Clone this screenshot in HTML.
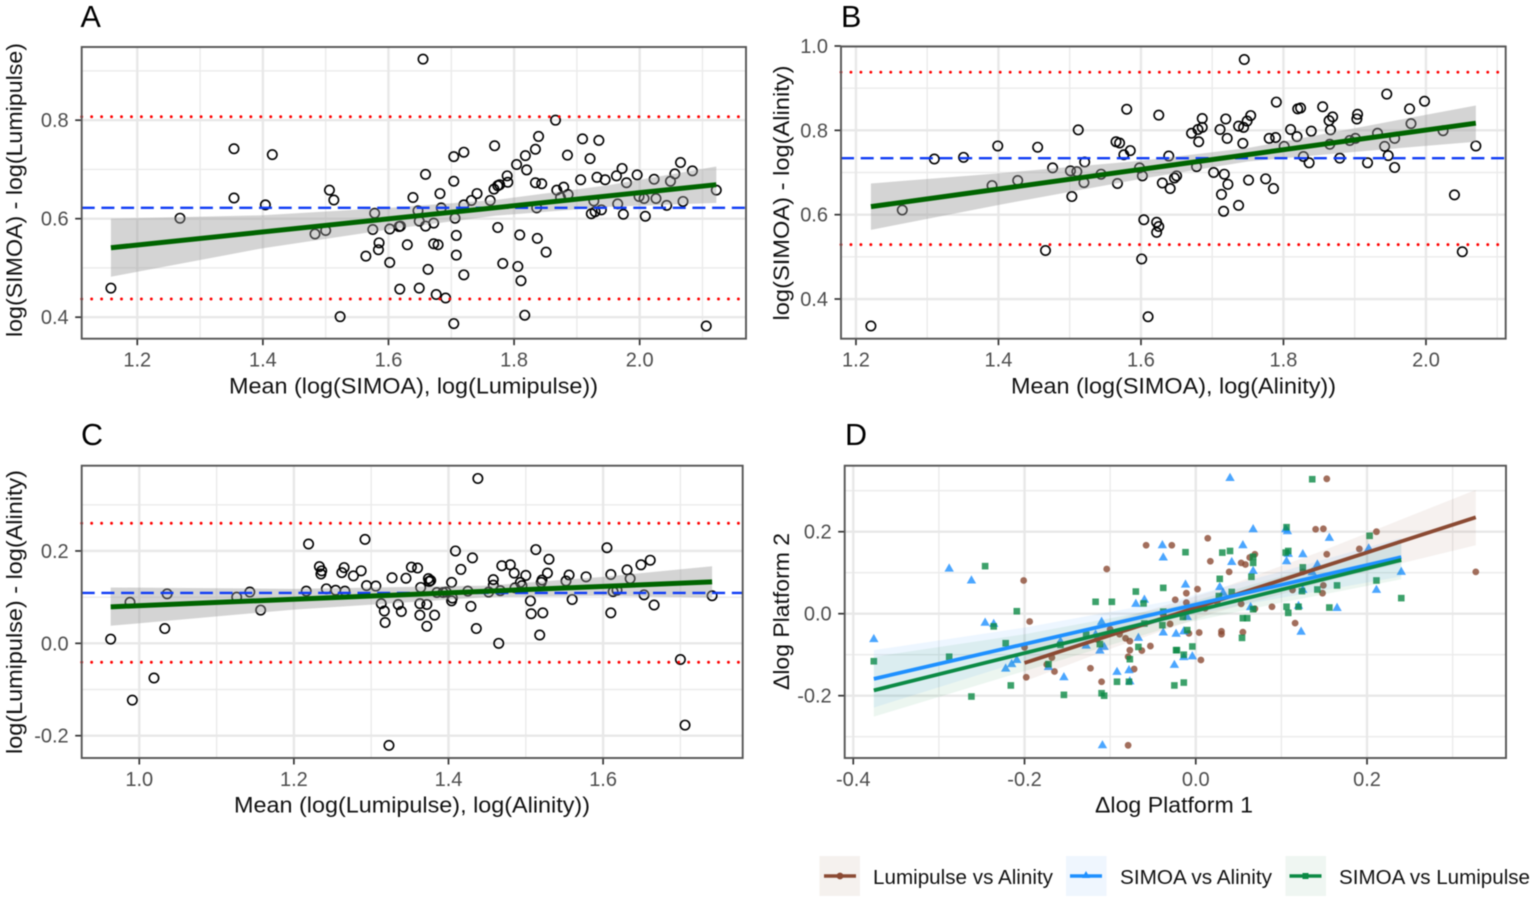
<!DOCTYPE html>
<html lang="en">
<head>
<meta charset="utf-8">
<title>Bland-Altman comparison of SIMOA, Lumipulse and Alinity</title>
<style>
html,body{margin:0;padding:0;background:#fff;}
svg{display:block;font-family:"Liberation Sans",sans-serif;filter:blur(0.4px);}
.t{fill:#111;font-size:22px;}
.l{fill:#111;font-size:20px;}
.p{fill:#000;font-size:30.5px;}
.k{fill:#4d4d4d;font-size:20px;}
</style>
</head>
<body>
<svg id="chart" xmlns="http://www.w3.org/2000/svg" width="1535" height="901" viewBox="0 0 1535 901">
  <g id="marks"></g>

  <text class="p" x="80.5" y="27">A</text>
  <text class="p" x="841" y="27">B</text>
  <text class="p" x="81" y="445">C</text>
  <text class="p" x="845" y="445">D</text>

  <text class="t" x="413.5" y="393.5" text-anchor="middle" textLength="369" lengthAdjust="spacingAndGlyphs">Mean (log(SIMOA), log(Lumipulse))</text>
  <text class="t" x="1173.5" y="393.5" text-anchor="middle" textLength="325" lengthAdjust="spacingAndGlyphs">Mean (log(SIMOA), log(Alinity))</text>
  <text class="t" x="412" y="812.5" text-anchor="middle" textLength="356" lengthAdjust="spacingAndGlyphs">Mean (log(Lumipulse), log(Alinity))</text>
  <text class="t" x="1174" y="812.5" text-anchor="middle" textLength="158" lengthAdjust="spacingAndGlyphs">Δlog Platform 1</text>

  <text class="t" transform="translate(22,190) rotate(-90)" text-anchor="middle" textLength="294" lengthAdjust="spacingAndGlyphs">log(SIMOA) - log(Lumipulse)</text>
  <text class="t" transform="translate(789,193) rotate(-90)" text-anchor="middle" textLength="255" lengthAdjust="spacingAndGlyphs">log(SIMOA) - log(Alinity)</text>
  <text class="t" transform="translate(22,612) rotate(-90)" text-anchor="middle" textLength="284" lengthAdjust="spacingAndGlyphs">log(Lumipulse) - log(Alinity)</text>
  <text class="t" transform="translate(789,611.5) rotate(-90)" text-anchor="middle" textLength="157" lengthAdjust="spacingAndGlyphs">Δlog Platform 2</text>

  <g>
    <g>
      <rect x="819.5" y="856" width="40.5" height="40" fill="#f5f1ee"/>
      <line x1="824" x2="856" y1="876" y2="876" stroke="#8b4a33" stroke-width="3.5"/>
      <circle cx="840" cy="876" r="3.4" fill="#8b4a33"/>
      <text class="l" x="873" y="884" textLength="180" lengthAdjust="spacingAndGlyphs">Lumipulse vs Alinity</text>
    </g>
    <g>
      <rect x="1066" y="856" width="40.5" height="40" fill="#eff6fe"/>
      <line x1="1070" x2="1102" y1="876" y2="876" stroke="#1e90ff" stroke-width="3.5"/>
      <path d="M1086,871 l4,7 h-8 z" fill="#1e90ff"/>
      <text class="l" x="1120" y="884" textLength="152" lengthAdjust="spacingAndGlyphs">SIMOA vs Alinity</text>
    </g>
    <g>
      <rect x="1285.5" y="856" width="40.5" height="40" fill="#eff6f2"/>
      <line x1="1289.5" x2="1321.5" y1="876" y2="876" stroke="#0b8a45" stroke-width="3.5"/>
      <rect x="1302.5" y="873" width="6" height="6" fill="#0b8a45"/>
      <text class="l" x="1339" y="884" textLength="191" lengthAdjust="spacingAndGlyphs">SIMOA vs Lumipulse</text>
    </g>
  </g>
</svg>
<script>
// ---------- Panel A data ----------
const aX = [1.158,1.268,1.354,1.354,1.415,1.404,1.506,1.513,1.483,1.500,1.523,1.578,1.575,1.564,1.585,1.584,1.602,1.602,1.617,1.618,1.655,1.866,1.839,1.769,1.720,1.704,1.909,1.935,1.818,1.834,1.885,1.921,1.804,1.820,1.659,1.704,1.789,1.790,1.777,1.774,1.768,1.741,1.732,1.762,1.682,1.639,1.720,1.684,1.647,1.649,1.659,1.672,1.706,1.619,1.708,1.672,1.679,1.630,1.708,1.663,1.720,1.774,1.809,1.837,1.851,1.782,1.806,1.811,1.817,1.704,1.649,1.676,1.691,2.106,2.122,2.084,2.065,2.056,2.049,2.023,1.996,1.972,1.963,1.979,1.945,1.932,1.906,1.879,1.868,1.874,1.886,1.834,1.844,1.836,1.927,1.923,1.929,1.939,1.965,1.974,1.999,2.007,2.009,2.026,2.043,2.069];
const aY = [0.459,0.601,0.742,0.642,0.730,0.628,0.658,0.638,0.569,0.576,0.401,0.611,0.578,0.524,0.551,0.537,0.579,0.511,0.584,0.457,0.924,0.800,0.767,0.748,0.735,0.726,0.762,0.759,0.728,0.741,0.729,0.722,0.710,0.699,0.690,0.676,0.687,0.674,0.669,0.667,0.660,0.651,0.637,0.637,0.651,0.643,0.628,0.622,0.616,0.595,0.585,0.591,0.601,0.585,0.566,0.549,0.547,0.547,0.526,0.497,0.486,0.582,0.567,0.560,0.532,0.509,0.503,0.474,0.404,0.387,0.459,0.446,0.439,0.382,0.658,0.697,0.714,0.691,0.676,0.680,0.689,0.702,0.687,0.673,0.679,0.684,0.679,0.664,0.658,0.643,0.649,0.673,0.671,0.622,0.636,0.610,0.614,0.618,0.630,0.609,0.645,0.641,0.605,0.641,0.627,0.635];
const aLimits = [0.437,0.622,0.807];
const aFitX = [1.158,2.122];
const aFitY = [0.541,0.669];
const aBandX = [1.158,1.4,1.6,1.77,1.95,2.122];
const aBandLo = [0.482,0.540,0.578,0.606,0.624,0.632];
const aBandHi = [0.600,0.607,0.622,0.638,0.668,0.706];
const aXTicks = [1.2,1.4,1.6,1.8,2.0];
const aXTickLabels = ['1.2','1.4','1.6','1.8','2.0'];
const aXMinor = [1.3,1.5,1.7,1.9,2.1];
const aYTicks = [0.4,0.6,0.8];
const aYTickLabels = ['0.4','0.6','0.8'];
const aYMinor = [0.5,0.7,0.9];

// ---------- Panel B data ----------
const bX = [1.221,1.265,1.310,1.351,1.391,1.399,1.427,1.455,1.476,1.466,1.501,1.510,1.503,1.512,1.521,1.520,1.544,1.567,1.565,1.570,1.580,1.585,1.576,1.598,1.602,1.604,1.601,1.610,1.745,1.622,1.625,1.622,1.625,1.639,1.630,1.641,1.647,1.650,1.671,1.680,1.686,1.686,1.681,1.678,1.702,1.711,1.719,1.721,1.717,1.722,1.713,1.716,1.737,1.737,1.744,1.749,1.754,1.743,1.751,1.775,1.786,1.780,1.789,1.790,1.801,1.810,1.819,1.820,1.824,1.828,1.836,1.839,1.855,1.864,1.869,1.866,1.865,1.879,1.893,1.901,1.904,1.903,1.918,1.932,1.942,1.945,1.947,1.956,1.956,1.977,1.979,1.998,2.024,2.040,2.051,2.070];
const bY = [0.336,0.611,0.732,0.736,0.669,0.763,0.681,0.760,0.711,0.515,0.704,0.702,0.643,0.801,0.725,0.676,0.696,0.674,0.773,0.770,0.850,0.752,0.742,0.711,0.692,0.588,0.495,0.358,0.968,0.582,0.572,0.558,0.836,0.739,0.675,0.662,0.687,0.692,0.793,0.802,0.807,0.828,0.773,0.714,0.700,0.802,0.827,0.781,0.696,0.672,0.648,0.608,0.622,0.810,0.807,0.822,0.835,0.769,0.682,0.685,0.662,0.781,0.783,0.867,0.762,0.802,0.785,0.851,0.853,0.738,0.723,0.798,0.856,0.823,0.832,0.801,0.767,0.734,0.776,0.781,0.838,0.827,0.723,0.793,0.762,0.886,0.740,0.781,0.712,0.851,0.816,0.869,0.799,0.647,0.512,0.763];
const bLimits = [0.529,0.734,0.938];
const bFitX = [1.221,2.070];
const bFitY = [0.619,0.817];
const bBandX = [1.221,1.4,1.6,1.75,1.9,2.07];
const bBandLo = [0.564,0.623,0.685,0.726,0.749,0.773];
const bBandHi = [0.674,0.698,0.728,0.758,0.805,0.859];
const bXTicks = [1.2,1.4,1.6,1.8,2.0];
const bXTickLabels = ['1.2','1.4','1.6','1.8','2.0'];
const bXMinor = [1.3,1.5,1.7,1.9,2.1];
const bYTicks = [0.4,0.6,0.8,1.0];
const bYTickLabels = ['0.4','0.6','0.8','1.0'];
const bYMinor = [0.5,0.7,0.9];

// ---------- Panel C data ----------
const cX = [0.963,0.991,0.988,1.019,1.033,1.036,1.126,1.143,1.157,1.216,1.219,1.233,1.236,1.235,1.242,1.254,1.262,1.265,1.266,1.277,1.287,1.292,1.294,1.306,1.313,1.317,1.318,1.323,1.327,1.335,1.339,1.345,1.352,1.360,1.363,1.363,1.372,1.382,1.372,1.364,1.374,1.377,1.375,1.385,1.393,1.397,1.404,1.404,1.405,1.409,1.416,1.425,1.429,1.431,1.436,1.438,1.452,1.458,1.458,1.467,1.465,1.469,1.480,1.485,1.486,1.493,1.495,1.500,1.506,1.507,1.513,1.518,1.521,1.520,1.522,1.528,1.530,1.552,1.556,1.560,1.578,1.605,1.610,1.610,1.613,1.618,1.631,1.635,1.649,1.653,1.661,1.666,1.700,1.706,1.741];
const cY = [0.009,-0.123,0.089,-0.075,0.032,0.107,0.100,0.111,0.072,0.113,0.215,0.166,0.157,0.150,0.118,0.115,0.153,0.164,0.113,0.146,0.157,0.225,0.125,0.124,0.086,0.070,0.045,-0.221,0.142,0.084,0.069,0.141,0.165,0.163,0.061,0.086,0.084,0.061,0.037,0.121,0.140,0.136,0.134,0.110,0.110,0.111,0.132,0.092,0.098,0.200,0.160,0.113,0.080,0.185,0.032,0.357,0.111,0.138,0.126,0.114,0.000,0.168,0.170,0.152,0.120,0.132,0.125,0.147,0.092,0.064,0.203,0.018,0.137,0.132,0.066,0.152,0.182,0.135,0.148,0.095,0.144,0.207,0.066,0.149,0.112,0.115,0.159,0.140,0.170,0.105,0.180,0.083,-0.035,-0.177,0.103];
const cLimits = [-0.041,0.109,0.260];
const cFitX = [0.963,1.741];
const cFitY = [0.079,0.133];
const cBandX = [0.963,1.2,1.45,1.6,1.741];
const cBandLo = [0.038,0.073,0.100,0.103,0.099];
const cBandHi = [0.121,0.118,0.125,0.144,0.167];
const cXTicks = [1.0,1.2,1.4,1.6];
const cXTickLabels = ['1.0','1.2','1.4','1.6'];
const cXMinor = [1.1,1.3,1.5,1.7];
const cYTicks = [-0.2,0.0,0.2];
const cYTickLabels = ['-0.2','0.0','0.2'];
const cYMinor = [-0.1,0.1,0.3];

// ---------- Panel D data ----------
const lumiAlinX = [-0.058,-0.028,-0.104,-0.201,-0.194,-0.200,-0.198,-0.168,-0.174,-0.165,-0.123,-0.110,-0.079,-0.100,-0.089,-0.082,-0.077,-0.115,-0.077,-0.079,-0.063,-0.053,-0.072,-0.024,-0.030,-0.038,0.014,0.017,-0.011,0.002,-0.011,-0.008,0.004,0.006,0.030,0.030,0.039,0.053,0.058,0.063,0.069,0.055,0.053,0.069,0.089,0.113,0.116,0.140,0.149,0.153,0.153,0.149,0.148,0.125,0.191,0.211,0.327,0.011,0.025];
const lumiAlinY = [0.167,0.167,0.109,0.081,-0.019,-0.082,-0.155,-0.107,-0.124,-0.141,-0.133,-0.166,-0.321,-0.038,-0.050,-0.060,-0.067,-0.063,-0.089,-0.105,-0.090,-0.079,-0.135,0.034,-0.025,-0.003,0.184,0.128,0.050,0.060,0.027,-0.048,-0.046,-0.113,-0.043,-0.050,0.102,0.124,0.120,0.137,0.145,-0.045,0.024,0.012,0.017,0.058,-0.023,0.206,0.207,0.329,0.145,0.069,0.050,0.102,0.158,0.200,0.102,0.013,0.029];
const simoaAlinX = [-0.376,-0.288,-0.262,-0.246,-0.236,-0.222,-0.215,-0.209,-0.158,-0.172,-0.154,-0.128,-0.117,-0.110,-0.112,-0.107,-0.109,-0.092,-0.078,-0.077,-0.067,-0.070,-0.060,-0.039,-0.038,-0.038,-0.023,-0.025,0.040,0.067,0.105,0.107,0.055,0.156,0.202,0.125,0.108,0.042,0.106,0.067,0.142,0.136,0.240,-0.012,0.028,0.032,0.125,0.211,0.064,0.120,0.165,-0.010,0.123,-0.014,-0.014,-0.004];
const simoaAlinY = [-0.061,0.111,0.082,-0.021,-0.024,-0.133,-0.122,-0.112,-0.067,-0.129,-0.154,-0.077,-0.050,-0.019,-0.089,-0.080,-0.320,-0.141,-0.137,-0.164,-0.058,0.025,0.035,0.168,0.138,-0.045,-0.048,-0.124,0.332,0.207,0.207,0.202,0.168,0.186,0.160,0.146,0.147,0.127,0.129,0.105,0.121,0.102,0.103,0.072,0.066,0.052,0.059,0.059,0.017,0.020,0.015,-0.007,-0.043,-0.042,-0.105,-0.103];
const simoaLumiX = [-0.376,-0.288,-0.246,-0.262,-0.236,-0.222,-0.209,-0.216,-0.172,-0.158,-0.154,-0.128,-0.117,-0.098,-0.112,-0.110,-0.107,-0.092,-0.078,-0.077,-0.070,-0.061,-0.067,-0.060,-0.038,-0.038,-0.039,-0.023,-0.025,0.136,0.106,-0.012,0.031,0.040,0.067,0.067,0.105,0.108,0.125,0.028,0.065,0.042,0.027,0.124,0.142,0.165,0.203,0.211,0.240,0.067,0.106,0.108,0.120,0.156,0.055,0.060,-0.015,-0.010,0.054,-0.004,-0.022,-0.014,-0.014];
const simoaLumiY = [-0.116,-0.105,0.116,-0.202,-0.031,-0.072,0.006,-0.175,-0.123,-0.076,-0.198,-0.051,0.029,0.029,-0.074,-0.194,-0.200,-0.166,-0.166,-0.111,0.054,0.025,-0.081,-0.024,0.063,0.005,-0.028,-0.089,-0.175,0.328,0.211,0.150,0.149,0.153,0.139,0.124,0.149,0.153,0.113,0.085,0.090,0.053,0.043,0.055,0.059,0.069,0.190,0.081,0.038,0.011,0.017,0.002,0.017,0.015,-0.011,-0.011,-0.008,-0.040,-0.059,-0.080,-0.089,-0.100,-0.168];
const lumiAlinFitX = [-0.2,0.327];
const lumiAlinFitY = [-0.120,0.235];
const simoaAlinFitX = [-0.376,0.240];
const simoaAlinFitY = [-0.159,0.138];
const simoaLumiFitX = [-0.376,0.240];
const simoaLumiFitY = [-0.187,0.131];
const lumiAlinBandX = [-0.2,-0.1,0.02,0.15,0.327];
const lumiAlinBandLo = [-0.165,-0.086,0.001,0.077,0.167];
const lumiAlinBandHi = [-0.075,-0.020,0.055,0.155,0.302];
const simoaAlinBandX = [-0.376,-0.2,-0.02,0.1,0.24];
const simoaAlinBandLo = [-0.229,-0.114,-0.009,0.039,0.091];
const simoaAlinBandHi = [-0.089,-0.034,0.035,0.103,0.185];
const simoaLumiBandX = [-0.376,-0.2,-0.02,0.1,0.24];
const simoaLumiBandLo = [-0.251,-0.140,-0.026,0.027,0.084];
const simoaLumiBandHi = [-0.105,-0.050,0.020,0.091,0.178];
const dXTicks = [-0.4,-0.2,0.0,0.2];
const dXTickLabels = ['-0.4','-0.2','0.0','0.2'];
const dXMinor = [-0.3,-0.1,0.1,0.3];
const dYTicks = [-0.2,0.0,0.2];
const dYTickLabels = ['-0.2','0.0','0.2'];
const dYMinor = [-0.3,-0.1,0.1,0.3];

// ---------- Helpers ----------
const NS = 'http://www.w3.org/2000/svg';
const host = document.getElementById('marks');

function linear(d0, d1, r0, r1) {
  return function (v) { return r0 + (v - d0) / (d1 - d0) * (r1 - r0); };
}
function make(parent, tag, attrs) {
  const el = document.createElementNS(NS, tag);
  for (const k in attrs) { el.setAttribute(k, attrs[k]); }
  parent.appendChild(el);
  return el;
}
function bandPath(xs, lo, hi, sx, sy) {
  const up = xs.map(function (v, i) { return sx(v).toFixed(2) + ',' + sy(hi[i]).toFixed(2); });
  const dn = xs.map(function (v, i) { return sx(v).toFixed(2) + ',' + sy(lo[i]).toFixed(2); }).reverse();
  return 'M' + up.join('L') + 'L' + dn.join('L') + 'Z';
}

function frame(box, sx, sy, xMinor, yMinor, xTicks, xLabels, yTicks, yLabels) {
  const g = make(host, 'g', {});
  
  
  const bg = make(g, 'rect', {x: box.l, y: box.t, width: box.r - box.l, height: box.b - box.t, fill: '#fff'});
  
  
  xMinor.forEach(function (v) {
    const el = make(g, 'line', {x1: sx(v), x2: sx(v), y1: box.t, y2: box.b, stroke: '#ebebeb', 'stroke-width': 1.4});
    
    
  });
  yMinor.forEach(function (v) {
    const el = make(g, 'line', {x1: box.l, x2: box.r, y1: sy(v), y2: sy(v), stroke: '#ebebeb', 'stroke-width': 1.4});
    
    
  });
  xTicks.forEach(function (v, i) {
    const grid = make(g, 'line', {x1: sx(v), x2: sx(v), y1: box.t, y2: box.b, stroke: '#e8e8e8', 'stroke-width': 2.4});
    
    
    const tick = make(g, 'line', {x1: sx(v), x2: sx(v), y1: box.b, y2: box.b + 6.5, stroke: '#333', 'stroke-width': 1.7});
    
    
    const lab = make(g, 'text', {x: sx(v), y: box.b + 28, 'text-anchor': 'middle', 'class': 'k'});
    
    
    lab.textContent = xLabels[i];
  });
  yTicks.forEach(function (v, i) {
    const grid = make(g, 'line', {x1: box.l, x2: box.r, y1: sy(v), y2: sy(v), stroke: '#e8e8e8', 'stroke-width': 2.4});
    
    
    const tick = make(g, 'line', {x1: box.l - 6.5, x2: box.l, y1: sy(v), y2: sy(v), stroke: '#333', 'stroke-width': 1.7});
    
    
    const lab = make(g, 'text', {x: box.l - 13, y: sy(v) + 7, 'text-anchor': 'end', 'class': 'k'});
    
    
    lab.textContent = yLabels[i];
  });
}

function border(box) {
  const el = make(host, 'rect', {x: box.l, y: box.t, width: box.r - box.l, height: box.b - box.t, fill: 'none', stroke: '#555', 'stroke-width': 1.9});
  
  
}

function blandAltman(box, xd, yd, xs, ys, limits, fitX, fitY, bx, lo, hi, xMinor, yMinor, xTicks, xLabels, yTicks, yLabels) {
  const sx = linear(xd[0], xd[1], box.l, box.r);
  const sy = linear(yd[0], yd[1], box.b, box.t);
  frame(box, sx, sy, xMinor, yMinor, xTicks, xLabels, yTicks, yLabels);
  xs.forEach(function (v, i) {
    const el = make(host, 'circle', {cx: sx(v), cy: sy(ys[i]), r: 4.7, fill: 'none', stroke: '#000', 'stroke-width': 1.6});
    
    
  });
  const band = make(host, 'path', {d: bandPath(bx, lo, hi, sx, sy), fill: '#999', 'fill-opacity': 0.42});
  
  
  const lower = make(host, 'line', {x1: box.l, x2: box.r, y1: sy(limits[0]), y2: sy(limits[0]), stroke: '#ff0000', 'stroke-width': 2.9, 'stroke-linecap': 'round', 'stroke-dasharray': '0 9.95'});
  
  
  const mean = make(host, 'line', {x1: box.l, x2: box.r, y1: sy(limits[1]), y2: sy(limits[1]), stroke: '#0f3cf5', 'stroke-width': 2.4, 'stroke-dasharray': '13 6.7'});
  
  
  const upper = make(host, 'line', {x1: box.l, x2: box.r, y1: sy(limits[2]), y2: sy(limits[2]), stroke: '#ff0000', 'stroke-width': 2.9, 'stroke-linecap': 'round', 'stroke-dasharray': '0 9.95'});
  
  
  const fit = make(host, 'line', {x1: sx(fitX[0]), x2: sx(fitX[1]), y1: sy(fitY[0]), y2: sy(fitY[1]), stroke: '#006400', 'stroke-width': 5});
  
  
  border(box);
}

// ---------- Panels A, B, C ----------
blandAltman({l: 81.7, r: 746, t: 47, b: 338.7}, [1.1115, 2.1693], [0.3563, 0.9486],
  aX, aY, aLimits, aFitX, aFitY, aBandX, aBandLo, aBandHi, aXMinor, aYMinor, aXTicks, aXTickLabels, aYTicks, aYTickLabels);
blandAltman({l: 841, r: 1505.7, t: 46.5, b: 338.7}, [1.179, 2.1119], [0.3059, 0.9988],
  bX, bY, bLimits, bFitX, bFitY, bBandX, bBandLo, bBandHi, bXMinor, bYMinor, bXTicks, bXTickLabels, bYTicks, bYTickLabels);
blandAltman({l: 81.7, r: 742.7, t: 465.7, b: 758}, [0.9255, 1.7806], [-0.2483, 0.3846],
  cX, cY, cLimits, cFitX, cFitY, cBandX, cBandLo, cBandHi, cXMinor, cYMinor, cXTicks, cXTickLabels, cYTicks, cYTickLabels);

// ---------- Panel D ----------
const dBox = {l: 844.7, r: 1506, t: 465.7, b: 758};
const dsx = linear(-0.41, 0.3623, dBox.l, dBox.r);
const dsy = linear(-0.352, 0.361, dBox.b, dBox.t);
frame(dBox, dsx, dsy, dXMinor, dYMinor, dXTicks, dXTickLabels, dYTicks, dYTickLabels);

const brown = '#8b4a33';
const sky = '#1e90ff';
const forest = '#0b8a45';

lumiAlinX.forEach(function (v, i) {
  const el = make(host, 'circle', {cx: dsx(v), cy: dsy(lumiAlinY[i]), r: 3.4, fill: brown, 'fill-opacity': 0.8});
  
  
});
simoaAlinX.forEach(function (v, i) {
  const cx = dsx(v), cy = dsy(simoaAlinY[i]);
  const el = make(host, 'path', {d: 'M' + cx + ',' + (cy - 4.8) + 'l4.7,8.2h-9.4z', fill: sky, 'fill-opacity': 0.8});
  
  
});
simoaLumiX.forEach(function (v, i) {
  const el = make(host, 'rect', {x: dsx(v) - 3.3, y: dsy(simoaLumiY[i]) - 3.3, width: 6.6, height: 6.6, fill: forest, 'fill-opacity': 0.8});
  
  
});

const bandBrown = make(host, 'path', {d: bandPath(lumiAlinBandX, lumiAlinBandLo, lumiAlinBandHi, dsx, dsy), fill: brown, 'fill-opacity': 0.08});


const bandSky = make(host, 'path', {d: bandPath(simoaAlinBandX, simoaAlinBandLo, simoaAlinBandHi, dsx, dsy), fill: sky, 'fill-opacity': 0.08});


const bandForest = make(host, 'path', {d: bandPath(simoaLumiBandX, simoaLumiBandLo, simoaLumiBandHi, dsx, dsy), fill: forest, 'fill-opacity': 0.08});



const fitBrown = make(host, 'line', {x1: dsx(lumiAlinFitX[0]), x2: dsx(lumiAlinFitX[1]), y1: dsy(lumiAlinFitY[0]), y2: dsy(lumiAlinFitY[1]), stroke: brown, 'stroke-width': 3.8});


const fitSky = make(host, 'line', {x1: dsx(simoaAlinFitX[0]), x2: dsx(simoaAlinFitX[1]), y1: dsy(simoaAlinFitY[0]), y2: dsy(simoaAlinFitY[1]), stroke: sky, 'stroke-width': 3.8});


const fitForest = make(host, 'line', {x1: dsx(simoaLumiFitX[0]), x2: dsx(simoaLumiFitX[1]), y1: dsy(simoaLumiFitY[0]), y2: dsy(simoaLumiFitY[1]), stroke: forest, 'stroke-width': 3.8});


border(dBox);
</script>
</body>
</html>
